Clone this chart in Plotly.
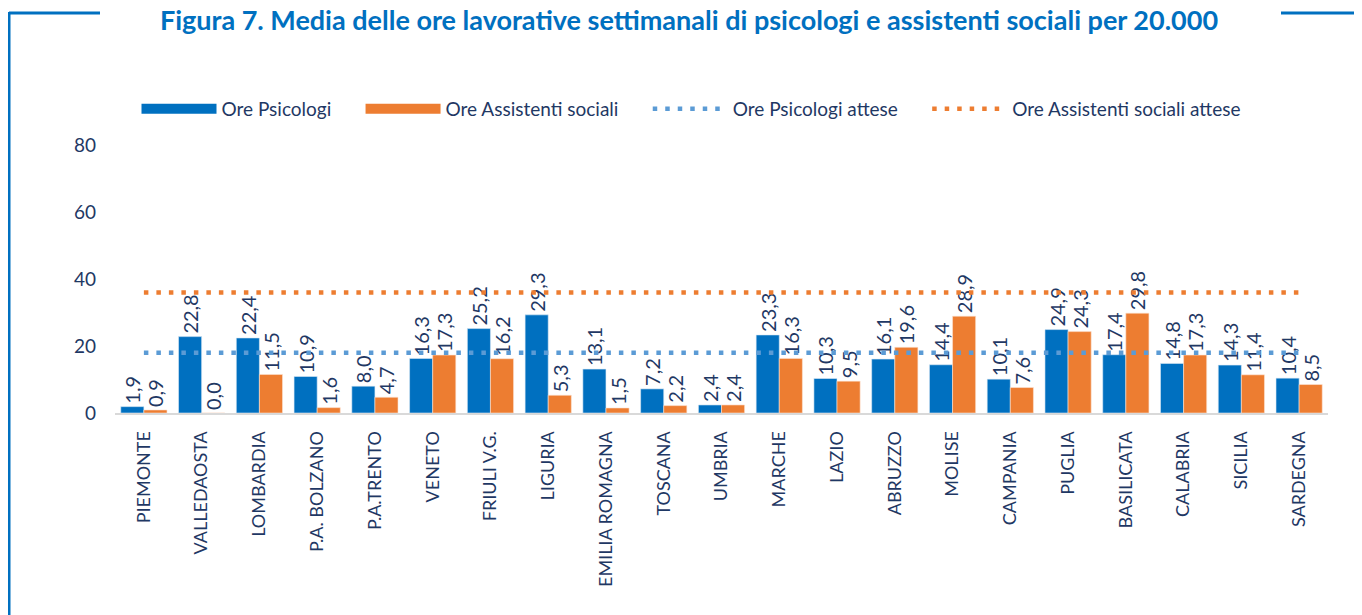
import plotly.graph_objects as go

# Regioni e ore medie settimanali per 20.000 abitanti
regioni = ["PIEMONTE", "VALLEDAOSTA", "LOMBARDIA", "P.A. BOLZANO", "P.A.TRENTO",
           "VENETO", "FRIULI V.G.", "LIGURIA", "EMILIA ROMAGNA", "TOSCANA",
           "UMBRIA", "MARCHE", "LAZIO", "ABRUZZO", "MOLISE", "CAMPANIA",
           "PUGLIA", "BASILICATA", "CALABRIA", "SICILIA", "SARDEGNA"]
ore_psicologi = [1.9, 22.8, 22.4, 10.9, 8.0, 16.3, 25.2, 29.3, 13.1, 7.2,
                 2.4, 23.3, 10.3, 16.1, 14.4, 10.1, 24.9, 17.4, 14.8, 14.3, 10.4]
ore_assistenti = [0.9, 0.0, 11.5, 1.6, 4.7, 17.3, 16.2, 5.3, 1.5, 2.2,
                  2.4, 16.3, 9.5, 19.6, 28.9, 7.6, 24.3, 29.8, 17.3, 11.4, 8.5]
attese_psicologi = 18
attese_assistenti = 36

BLUE = "#0070C0"
ORANGE = "#ED7D31"
BLUE_DOT = "#5B9BD5"
NAVY = "#1F3864"
FONT = "Lato"

# la pagina ha un margine di 8px attorno al grafico
OFF = 8
W, H = 1362 - OFF, 615 - OFF
ML, MR, MT, MB = 115 - OFF, 34, 145 - OFF, 202
PW, PH = W - ML - MR, H - MT - MB


def px_x(p):
    return (p - OFF - ML) / PW


def px_y(p):
    return (H - MB - (p - OFF)) / PH


fig = go.Figure()

label_font = dict(color=NAVY, size=20, family=FONT)
fig.add_trace(go.Bar(
    x=regioni, y=ore_psicologi, name="Ore Psicologi", showlegend=False,
    marker=dict(color=BLUE, line=dict(color="#DCE9F5", width=0.6)),
    texttemplate="%{y:.1f}", textposition="outside", textangle=-90,
    constraintext="none", cliponaxis=False, textfont=label_font
))
fig.add_trace(go.Bar(
    x=regioni, y=ore_assistenti, name="Ore Assistenti sociali", showlegend=False,
    marker=dict(color=ORANGE, line=dict(color="#FBE2D2", width=0.6)),
    texttemplate="%{y:.1f}", textposition="outside", textangle=-90,
    constraintext="none", cliponaxis=False, textfont=label_font
))
gap = "\u00a0" * 5
fig.add_trace(go.Scatter(
    x=regioni, y=[attese_psicologi] * len(regioni), mode="lines",
    name="Ore Psicologi attese" + gap, legendrank=3,
    line=dict(color=BLUE_DOT, width=4.5, dash="4.5px,8px")
))
fig.add_trace(go.Scatter(
    x=regioni, y=[attese_assistenti] * len(regioni), mode="lines",
    name="Ore Assistenti sociali attese", legendrank=4,
    line=dict(color=ORANGE, width=4.5, dash="4.5px,8px")
))
# voci di legenda per le barre (rettangoli larghi come nell'originale)
fig.add_trace(go.Scatter(x=[None], y=[None], mode="lines", name="Ore Psicologi" + gap,
                         legendrank=1, line=dict(color=BLUE, width=12)))
fig.add_trace(go.Scatter(x=[None], y=[None], mode="lines", name="Ore Assistenti sociali" + gap,
                         legendrank=2, line=dict(color=ORANGE, width=12)))

# cornice decorativa attorno al titolo
frame = dict(color=BLUE, width=3)
fig.add_shape(type="line", xref="paper", yref="paper",
              x0=px_x(9), x1=px_x(100), y0=px_y(13), y1=px_y(13), line=frame)
fig.add_shape(type="line", xref="paper", yref="paper",
              x0=px_x(9), x1=px_x(9), y0=px_y(12), y1=px_y(620), line=frame)
fig.add_shape(type="line", xref="paper", yref="paper",
              x0=px_x(1281), x1=px_x(1370), y0=px_y(13), y1=px_y(13), line=frame)

fig.update_layout(
    width=W, height=H,
    margin=dict(l=ML, r=MR, t=MT, b=MB, autoexpand=False),
    paper_bgcolor="white", plot_bgcolor="white",
    separators=",.",
    font=dict(family=FONT, color=NAVY, size=15),
    title=dict(
        text="<b>Figura 7. Media delle ore lavorative settimanali di psicologi e assistenti sociali per 20.000</b>",
        font=dict(family=FONT, size=27, color=BLUE),
        x=(689 - OFF) / W, xanchor="center", xref="container",
        y=1 - (21 - OFF) / H, yanchor="middle", yref="container"
    ),
    barmode="group", bargap=0.2, bargroupgap=0,
    legend=dict(
        orientation="h", xref="container", x=(691 - OFF) / W, xanchor="center",
        yref="container", y=1 - (109 - OFF) / H, yanchor="middle",
        font=dict(size=19, color=NAVY, family=FONT),
        itemwidth=75, traceorder="normal"
    ),
    xaxis=dict(
        showline=True, linecolor="#D9D9D9", linewidth=2,
        ticks="", tickangle=-90, ticklabelstandoff=9, automargin=False,
        tickfont=dict(size=18, color=NAVY, family=FONT),
        showgrid=False
    ),
    yaxis=dict(
        range=[0, 80], tickvals=[0, 20, 40, 60, 80],
        showgrid=False, zeroline=False, showline=False,
        ticklabelstandoff=18, automargin=False,
        tickfont=dict(size=19, color=NAVY, family=FONT)
    )
)

fig.write_html("out.html")
